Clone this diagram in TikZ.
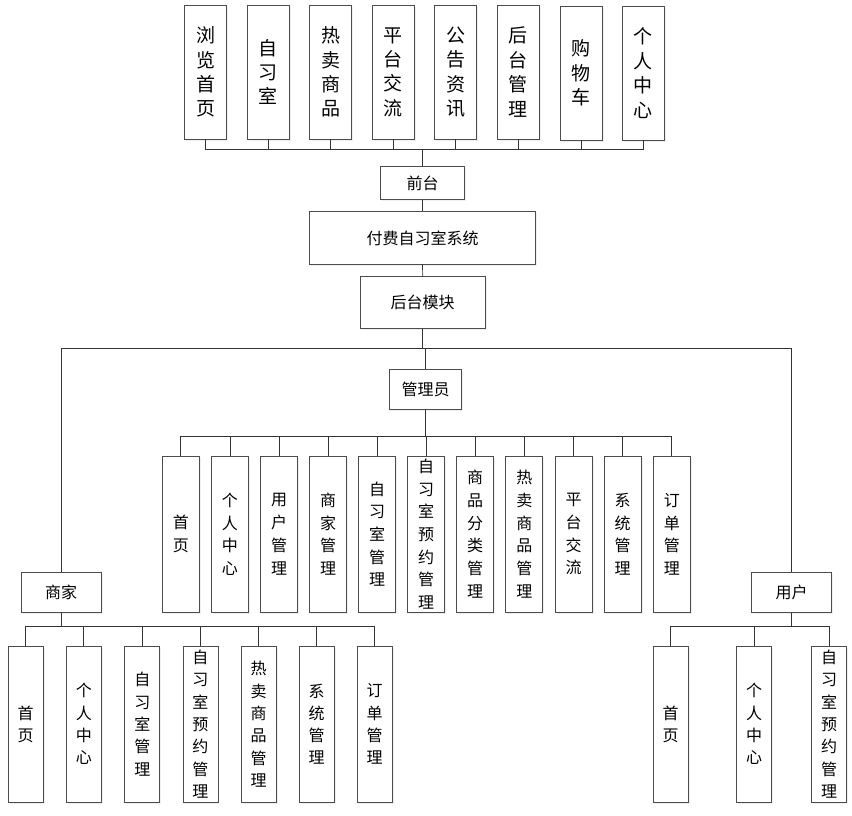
\documentclass[tikz,border=0pt]{standalone}
\usepackage{fontspec}
\setmainfont{Noto Sans CJK SC}
\usetikzlibrary{shadows}
\begin{document}
\begin{tikzpicture}[x=1pt,y=-1pt,
  box/.style={draw=black!70,line width=0.8pt,fill=white,inner sep=0pt,align=center,
    drop shadow={shadow xshift=1.5pt,shadow yshift=-1.5pt,fill=black!12}},
  topbox/.style={box,minimum width=42pt,minimum height=134pt,font=\fontsize{19}{24.4}\selectfont},
  admbox/.style={box,minimum width=37pt,minimum height=156pt,font=\fontsize{16}{22.7}\selectfont},
  subbox/.style={box,minimum width=35pt,minimum height=156pt,font=\fontsize{16}{22.3}\selectfont},
  lbl/.style={box,font=\fontsize{16}{18}\selectfont},
  conn/.style={draw=black!80,line width=0.7pt}]
\useasboundingbox (0,0) rectangle (852,815);
% top row
\node[topbox] (t1) at (205.5,72) {浏\\览\\首\\页};
\node[topbox] (t2) at (268,72) {自\\习\\室};
\node[topbox] (t3) at (330.5,72) {热\\卖\\商\\品};
\node[topbox] (t4) at (393.3,72) {平\\台\\交\\流};
\node[topbox] (t5) at (455.7,72) {公\\告\\资\\讯};
\node[topbox] (t6) at (518.3,72) {后\\台\\管\\理};
\node[topbox] (t7) at (581,73) {购\\物\\车};
\node[topbox] (t8) at (643.3,73) {个\\人\\中\\心};
% spine
\node[lbl,minimum width=84pt,minimum height=32.6pt] (qt) at (422.5,183) {前台};
\node[lbl,minimum width=226pt,minimum height=52.3pt] (sys) at (422.5,237.9) {付费自习室系统};
\node[lbl,minimum width=125pt,minimum height=52pt] (hm) at (422.7,302.3) {后台模块};
\node[lbl,minimum width=72pt,minimum height=40pt] (gly) at (425.5,389.3) {管理员};
\node[lbl,minimum width=80pt,minimum height=40pt] (sj) at (61.2,592.3) {商家};
\node[lbl,minimum width=80pt,minimum height=40pt] (yh) at (791.6,592.3) {用户};
% admin children
\node[admbox] (a1) at (180.8,534.2) {首\\页};
\node[admbox] (a2) at (229.9,534.2) {个\\人\\中\\心};
\node[admbox] (a3) at (279.1,534.2) {用\\户\\管\\理};
\node[admbox] (a4) at (328.2,534.2) {商\\家\\管\\理};
\node[admbox] (a5) at (377.1,534.2) {自\\习\\室\\管\\理};
\node[admbox] (a6) at (426.0,534.2) {自\\习\\室\\预\\约\\管\\理};
\node[admbox] (a7) at (475.1,534.2) {商\\品\\分\\类\\管\\理};
\node[admbox] (a8) at (524.3,534.2) {热\\卖\\商\\品\\管\\理};
\node[admbox] (a9) at (573.5,534.2) {平\\台\\交\\流};
\node[admbox] (a10) at (622.6,534.2) {系\\统\\管\\理};
\node[admbox] (a11) at (671.8,534.2) {订\\单\\管\\理};
% merchant children
\node[subbox] (m1) at (25.7,724.2) {首\\页};
\node[subbox] (m2) at (83.8,724.2) {个\\人\\中\\心};
\node[subbox] (m3) at (142.3,724.2) {自\\习\\室\\管\\理};
\node[subbox] (m4) at (200.4,724.2) {自\\习\\室\\预\\约\\管\\理};
\node[subbox] (m5) at (258.6,724.2) {热\\卖\\商\\品\\管\\理};
\node[subbox] (m6) at (316.5,724.2) {系\\统\\管\\理};
\node[subbox] (m7) at (374.7,724.2) {订\\单\\管\\理};
% user children
\node[subbox] (u1) at (670.7,724.2) {首\\页};
\node[subbox] (u2) at (754.2,724.2) {个\\人\\中\\心};
\node[subbox] (u3) at (829,724.2) {自\\习\\室\\预\\约\\管\\理};
% bus coordinates
\coordinate (b1) at (422.5,149);
\coordinate (b2) at (422.7,348.3);
\coordinate (b3) at (425.5,436.7);
\coordinate (b4) at (61.2,626.7);
\coordinate (b5) at (791.6,626.7);
% connectors
\foreach \i in {1,...,8} \draw[conn] (t\i.south) -- (t\i.south |- b1) -- (b1);
\draw[conn] (b1) -- (qt.north);
\draw[conn] (qt.south) -- (sys.north);
\draw[conn] (sys.south) -- (hm.north);
\draw[conn] (hm.south) -- (b2);
\draw[conn] (sj.north) -- (sj.north |- b2) -- (yh.north |- b2) -- (yh.north);
\draw[conn] (gly.north) -- (gly.north |- b2);
\draw[conn] (gly.south) -- (b3);
\foreach \i in {1,...,11} \draw[conn] (a\i.north) -- (a\i.north |- b3) -- (b3);
\draw[conn] (sj.south) -- (b4);
\foreach \i in {1,...,7} \draw[conn] (m\i.north) -- (m\i.north |- b4) -- (b4);
\draw[conn] (yh.south) -- (b5);
\foreach \i in {1,...,3} \draw[conn] (u\i.north) -- (u\i.north |- b5) -- (b5);
\end{tikzpicture}
\end{document}
